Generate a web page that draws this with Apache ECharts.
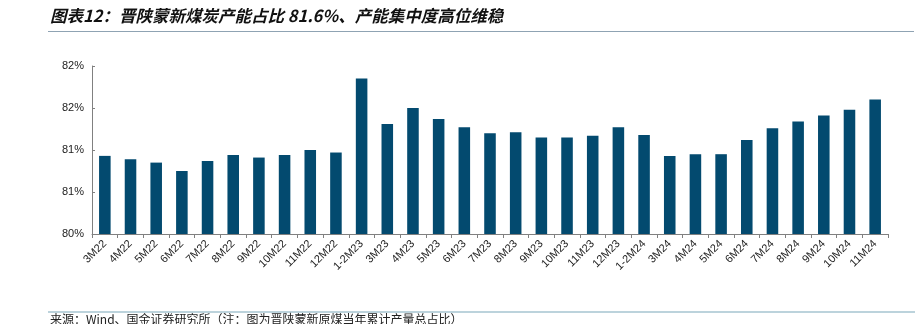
<!DOCTYPE html>
<html>
<head>
<meta charset="utf-8">
<script src="https://cdn.jsdelivr.net/npm/echarts@6/dist/echarts.min.js"></script>
<style>
  html, body { margin: 0; padding: 0; background: #fff; }
  #chart { width: 919px; height: 324px; }
</style>
</head>
<body>
<div id="chart"></div>
<script>
// Monthly categories (cumulative year-to-date)
const categories = [
  '3M22', '4M22', '5M22', '6M22', '7M22', '8M22', '9M22', '10M22', '11M22', '12M22',
  '1-2M23', '3M23', '4M23', '5M23', '6M23', '7M23', '8M23', '9M23', '10M23', '11M23', '12M23',
  '1-2M24', '3M24', '4M24', '5M24', '6M24', '7M24', '8M24', '9M24', '10M24', '11M24'
];

// Share of raw coal output from Shanxi, Shaanxi, Inner Mongolia and Xinjiang (%)
const shareValues = [
  80.93, 80.89, 80.85, 80.75, 80.87, 80.94, 80.91, 80.94, 81.00, 80.97,
  81.85, 81.31, 81.50, 81.37, 81.27, 81.20, 81.21, 81.15, 81.15, 81.17, 81.27,
  81.18, 80.93, 80.95, 80.95, 81.12, 81.26, 81.34, 81.41, 81.48, 81.60
];

// Value axis settings
const yMin = 80;
const yMax = 82;
const yStep = 0.5;

const titleText = '图表12：晋陕蒙新煤炭产能占比 81.6%、产能集中度高位维稳';
const sourceText = '来源：Wind、国金证券研究所（注：图为晋陕蒙新原煤当年累计产量总占比）';

const chart = echarts.init(document.getElementById('chart'), null, { renderer: 'canvas' });

chart.setOption({
  animation: false,
  backgroundColor: '#ffffff',
  textStyle: { fontFamily: 'Liberation Sans, Arial, sans-serif' },
  grid: { left: 92, right: 31, top: 66, bottom: 90, containLabel: false },
  xAxis: {
    type: 'category',
    data: categories,
    boundaryGap: true,
    axisLine: { show: true, lineStyle: { color: '#808080', width: 1 } },
    axisTick: { show: true, alignWithLabel: false, length: 4, lineStyle: { color: '#808080' } },
    axisLabel: {
      interval: 0,
      rotate: 45,
      fontSize: 11,
      color: '#222',
      margin: 8,
      fontFamily: 'Liberation Sans, Arial, sans-serif'
    },
    splitLine: { show: false }
  },
  yAxis: {
    type: 'value',
    min: yMin,
    max: yMax,
    interval: yStep,
    axisLine: { show: true, lineStyle: { color: '#808080', width: 1 } },
    axisTick: { show: true, inside: true, length: 3, lineStyle: { color: '#808080' } },
    axisLabel: {
      fontSize: 11,
      color: '#222',
      margin: 8,
      fontFamily: 'Liberation Sans, Arial, sans-serif',
      formatter: v => Math.round(v) + '%'
    },
    splitLine: { show: false }
  },
  series: [{
    type: 'bar',
    data: shareValues,
    barWidth: '45%',
    itemStyle: { color: '#034a6f' }
  }],
  graphic: [
    {
      type: 'text',
      left: 50,
      top: 7,
      style: {
        text: titleText,
        fontSize: 16.5,
        fontStyle: 'italic',
        fontWeight: 'bold',
        fill: '#111',
        fontFamily: 'Noto Sans CJK SC, sans-serif'
      }
    },
    {
      type: 'line',
      shape: { x1: 48, y1: 31.5, x2: 914, y2: 31.5 },
      style: { stroke: '#8fa3b3', lineWidth: 1.2 }
    },
    {
      type: 'line',
      shape: { x1: 48, y1: 312, x2: 915, y2: 312 },
      style: { stroke: '#7aa7b9', lineWidth: 1.2 }
    },
    {
      type: 'text',
      left: 50,
      top: 313,
      style: {
        text: sourceText,
        fontSize: 12,
        fill: '#222',
        fontFamily: 'Noto Sans CJK SC, sans-serif'
      }
    }
  ]
});
</script>
</body>
</html>
